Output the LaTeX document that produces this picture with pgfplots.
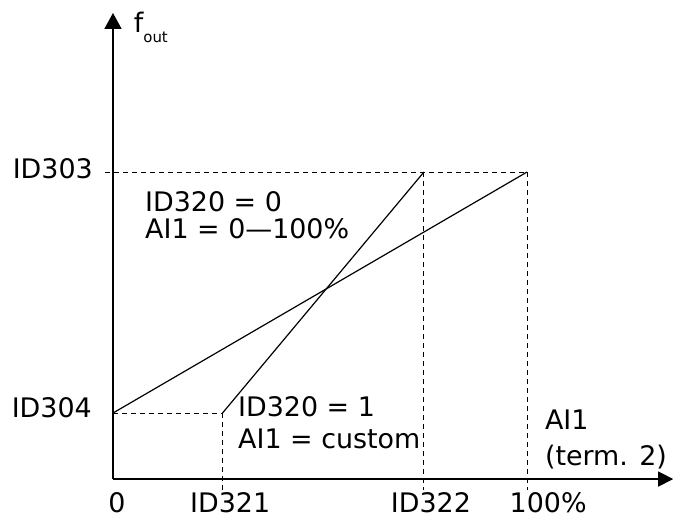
\documentclass[border=0pt]{standalone}
\usepackage{pgfplots}
\pgfplotsset{compat=1.18}
\usepackage{fontspec}
\setmainfont{DejaVu Sans}
\usetikzlibrary{arrows.meta}
\begin{document}
\begin{tikzpicture}[
  lab/.style={font=\fontsize{27}{30}\selectfont, inner sep=0pt},
]
\begin{axis}[
  x=4.14bp, y=3.07bp,
  xmin=0, xmax=135.3, ymin=0, ymax=151.8,
  axis lines=left,
  ticks=none,
  clip=false,
  x axis line style={line width=1.6bp, -{Triangle[length=15bp,width=15bp]}},
  y axis line style={line width=1.6bp, -{Triangle[length=16bp,width=17bp]}},
]
% guide dashed lines
\addplot[black, line width=1bp, dash pattern=on 5bp off 4bp] coordinates {(-1.9,100) (100,100)};
\addplot[black, line width=1bp, dash pattern=on 5bp off 4bp] coordinates {(0,21.5) (26.45,21.5)};
\addplot[black, line width=1bp, dash pattern=on 5bp off 4bp] coordinates {(26.45,21.5) (26.45,-3.6)};
\addplot[black, line width=1bp, dash pattern=on 5bp off 4bp] coordinates {(75.1,100) (75.1,-3.6)};
\addplot[black, line width=1bp, dash pattern=on 5bp off 4bp] coordinates {(100,100) (100,-3.6)};
% characteristic lines
\addplot[black, line width=1.2bp] coordinates {(0,21.5) (100,100)};
\addplot[black, line width=1.2bp] coordinates {(26.45,21.5) (75.1,100)};
% labels
\node[lab, anchor=base east] at (axis cs:-4.83,98.05) {ID303};
\node[lab, anchor=base east] at (axis cs:-5.07,20.2) {ID304};
\node[lab, anchor=base] at (axis cs:0.97,-10.75) {0};
\node[lab, anchor=base] at (axis cs:28.3,-10.75) {ID321};
\node[lab, anchor=base] at (axis cs:76.8,-10.75) {ID322};
\node[lab, anchor=base] at (axis cs:105.1,-10.75) {100\%};
\node[lab, anchor=base west] at (axis cs:7.73,87.3) {ID320 = 0};
\node[lab, anchor=base west] at (axis cs:7.73,78.5) {AI1 = 0—100\%};
\node[lab, anchor=base west] at (axis cs:30.2,20.5) {ID320 = 1};
\node[lab, anchor=base west] at (axis cs:30.2,10.1) {AI1 = custom};
\node[lab, anchor=base west] at (axis cs:104.3,16.0) {AI1};
\node[lab, anchor=base west] at (axis cs:104.3,4.56) {(term. 2)};
\node[inner sep=0pt, anchor=base west, font=\fontsize{27}{30}\selectfont] at (axis cs:5.0,145.6) {f\raisebox{-10bp}{\fontsize{15}{16}\selectfont out}};
\coordinate (BL) at (axis cs:-27.29,-12.38);
\coordinate (TR) at (axis cs:135.5,156.03);
\end{axis}
\pgfresetboundingbox
\path[use as bounding box] (BL) rectangle (TR);
\end{tikzpicture}
\end{document}
